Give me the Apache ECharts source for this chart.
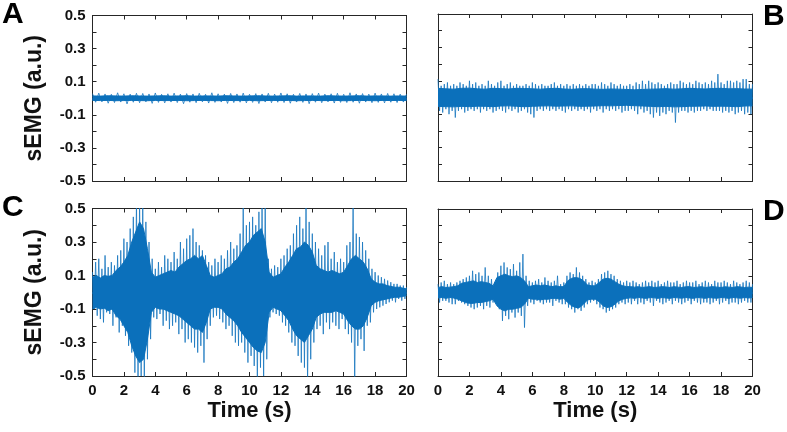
<!doctype html>
<html>
<head>
<meta charset="UTF-8">
<title>sEMG</title>
<script src="https://cdn.jsdelivr.net/npm/echarts@6/dist/echarts.min.js"></script>
<style>
  html, body { margin: 0; padding: 0; background: #fff; }
  #main { width: 787px; height: 432px; }
</style>
</head>
<body>
<div id="main"></div>
<script>
// dense band (upper / lower edge): A, B every 0.5 s; C, D every 0.25 s; 0..20 s
var coreHiA = [0.014,0.013,0.015,0.014,0.013,0.015,0.014,0.013,0.014,0.015,0.013,0.014,0.015,0.013,0.014,0.014,0.013,0.015,0.014,0.013,0.014,0.015,0.014,0.013,0.014,0.015,0.013,0.014,0.014,0.013,0.015,0.014,0.013,0.014,0.015,0.013,0.014,0.014,0.013,0.014,0.013];
var coreLoA = [-0.013,-0.014,-0.013,-0.015,-0.014,-0.013,-0.014,-0.015,-0.013,-0.014,-0.014,-0.013,-0.015,-0.014,-0.013,-0.014,-0.015,-0.013,-0.014,-0.014,-0.013,-0.015,-0.014,-0.013,-0.014,-0.013,-0.015,-0.014,-0.013,-0.014,-0.014,-0.013,-0.015,-0.014,-0.013,-0.014,-0.015,-0.013,-0.014,-0.013,-0.014];
var coreHiB = [0.055,0.052,0.05,0.055,0.056,0.052,0.05,0.055,0.053,0.051,0.055,0.054,0.052,0.05,0.053,0.055,0.051,0.049,0.052,0.053,0.05,0.049,0.051,0.05,0.048,0.046,0.048,0.05,0.051,0.053,0.05,0.052,0.055,0.053,0.051,0.054,0.055,0.052,0.053,0.051,0.05];
var coreLoB = [-0.053,-0.055,-0.056,-0.053,-0.055,-0.052,-0.053,-0.055,-0.051,-0.05,-0.053,-0.055,-0.053,-0.051,-0.05,-0.052,-0.051,-0.05,-0.053,-0.052,-0.051,-0.049,-0.05,-0.048,-0.047,-0.049,-0.051,-0.053,-0.055,-0.053,-0.056,-0.055,-0.053,-0.052,-0.051,-0.053,-0.052,-0.053,-0.055,-0.051,-0.05];
var coreHiC = [
    0.09,0.1,0.085,0.1,0.095,0.1,
    0.13,0.15,0.18,0.22,
    0.3,0.36,0.42,0.38,0.26,
    0.12,0.09,
    0.1,0.11,0.12,0.13,0.12,0.15,0.17,
    0.19,0.2,0.22,0.2,0.22,0.16,
    0.1,0.09,0.1,0.11,
    0.14,0.15,0.18,0.2,
    0.24,0.28,0.3,0.34,0.36,0.38,0.3,
    0.12,0.09,0.1,0.11,
    0.15,0.18,0.22,0.26,0.27,0.3,0.28,0.24,
    0.16,0.14,0.13,0.12,0.13,0.12,0.11,0.12,
    0.16,0.2,0.22,0.2,0.18,0.14,
    0.08,0.06,0.05,0.05,0.04,0.035,0.03,0.03,0.025,0.02];
var coreLoC = [
    -0.1,-0.09,-0.1,-0.095,-0.11,-0.1,
    -0.14,-0.16,-0.2,-0.24,
    -0.32,-0.38,-0.42,-0.4,-0.28,
    -0.12,-0.09,
    -0.1,-0.1,-0.11,-0.12,-0.13,-0.14,-0.16,
    -0.18,-0.2,-0.22,-0.22,-0.24,-0.18,
    -0.1,-0.09,-0.09,-0.1,
    -0.13,-0.15,-0.17,-0.2,
    -0.24,-0.27,-0.3,-0.33,-0.35,-0.36,-0.3,
    -0.12,-0.09,-0.1,-0.11,
    -0.14,-0.17,-0.22,-0.26,-0.28,-0.3,-0.26,-0.22,
    -0.15,-0.13,-0.12,-0.12,-0.12,-0.11,-0.12,-0.13,
    -0.17,-0.2,-0.22,-0.22,-0.2,-0.15,
    -0.08,-0.06,-0.05,-0.045,-0.04,-0.035,-0.03,-0.03,-0.025,-0.02];
var coreHiD = [
    0.03,0.035,0.03,0.032,0.035,0.04,
    0.055,0.06,0.065,0.07,0.06,0.065,0.06,0.055,0.04,
    0.09,0.1,0.11,0.1,0.095,0.1,0.09,0.07,
    0.035,0.04,0.045,0.04,0.045,0.04,0.035,0.04,0.035,0.035,
    0.07,0.085,0.09,0.085,0.07,0.045,0.04,0.04,0.06,
    0.08,0.085,0.08,0.065,0.05,0.04,0.035,
    0.035,0.032,0.035,0.03,0.033,0.035,0.03,0.032,0.035,0.033,0.03,0.035,0.032,0.03,0.034,0.035,
    0.03,0.032,0.035,0.03,0.033,0.035,0.032,0.03,0.034,0.032,0.03,0.035,0.033,0.03,0.032,0.03];
var coreLoD = [
    -0.032,-0.03,-0.035,-0.03,-0.033,-0.04,
    -0.05,-0.06,-0.065,-0.065,-0.06,-0.06,-0.055,-0.05,-0.04,
    -0.08,-0.1,-0.11,-0.1,-0.1,-0.095,-0.09,-0.07,
    -0.035,-0.04,-0.04,-0.045,-0.04,-0.04,-0.035,-0.035,-0.04,-0.035,
    -0.06,-0.08,-0.09,-0.09,-0.07,-0.045,-0.04,-0.04,-0.055,
    -0.08,-0.09,-0.085,-0.07,-0.05,-0.04,-0.035,
    -0.032,-0.035,-0.03,-0.033,-0.035,-0.03,-0.032,-0.035,-0.03,-0.033,-0.035,-0.03,-0.032,-0.034,-0.03,-0.033,
    -0.035,-0.03,-0.032,-0.035,-0.03,-0.033,-0.034,-0.03,-0.032,-0.035,-0.03,-0.032,-0.034,-0.03,-0.033,-0.03];

// spike tips: A every 0.2 s, B/C/D every 0.1 s, 0..20 s
var spikeA = [0.028,-0.024,0.031,-0.022,0.026,-0.03,0.024,-0.026,0.033,-0.023,0.027,-0.034,0.025,-0.024,0.03,-0.027,0.029,-0.022,0.026,-0.031,0.032,-0.025,0.024,-0.028,0.027,-0.023,0.031,-0.026,0.025,-0.033,0.028,-0.024,0.026,-0.027,0.03,-0.022,0.024,-0.029,0.033,-0.025,0.027,-0.023,0.025,-0.031,0.029,-0.026,0.026,-0.024,0.031,-0.028,0.024,-0.025,0.028,-0.032,0.026,-0.023,0.03,-0.027,0.025,-0.024,0.032,-0.026,0.027,-0.03,0.024,-0.023,0.029,-0.025,0.026,-0.033,0.028,-0.024,0.031,-0.027,0.025,-0.022,0.027,-0.029,0.03,-0.025,0.024,-0.026,0.033,-0.024,0.026,-0.03,0.028,-0.023,0.025,-0.027,0.031,-0.025,0.026,-0.028,0.029,-0.024,0.027,-0.026,0.025,-0.023,0.024];
var spikeB = [
    0.11,-0.08,0.07,-0.09,0.08,-0.07,0.09,-0.1,0.07,-0.08,
    0.08,-0.12,0.07,-0.08,0.09,-0.07,0.08,-0.09,0.07,-0.08,
    0.1,-0.07,0.08,-0.08,0.09,-0.07,0.07,-0.09,0.08,-0.07,
    0.07,-0.08,0.1,-0.07,0.08,-0.09,0.07,-0.08,0.09,-0.07,
    0.1,-0.08,0.07,-0.09,0.08,-0.07,0.09,-0.08,0.07,-0.07,
    0.08,-0.09,0.07,-0.08,0.07,-0.07,0.08,-0.09,0.07,-0.1,
    0.09,-0.12,0.08,-0.08,0.07,-0.07,0.08,-0.08,0.07,-0.07,
    0.07,-0.08,0.08,-0.07,0.09,-0.08,0.07,-0.07,0.08,-0.08,
    0.07,-0.09,0.08,-0.07,0.07,-0.08,0.08,-0.07,0.07,-0.08,
    0.08,-0.07,0.07,-0.08,0.08,-0.07,0.07,-0.09,0.08,-0.07,
    0.08,-0.08,0.07,-0.07,0.09,-0.09,0.08,-0.07,0.07,-0.08,
    0.09,-0.07,0.08,-0.08,0.07,-0.07,0.08,-0.09,0.07,-0.08,
    0.07,-0.08,0.08,-0.07,0.07,-0.08,0.09,-0.1,0.08,-0.07,
    0.1,-0.09,0.08,-0.08,0.1,-0.1,0.09,-0.12,0.08,-0.09,
    0.09,-0.11,0.08,-0.09,0.07,-0.1,0.08,-0.08,0.09,-0.09,
    0.08,-0.15,0.08,-0.09,0.1,-0.08,0.09,-0.08,0.08,-0.09,
    0.09,-0.08,0.08,-0.09,0.1,-0.08,0.09,-0.08,0.08,-0.07,
    0.09,-0.08,0.08,-0.07,0.1,-0.08,0.09,-0.08,0.14,-0.08,
    0.09,-0.09,0.08,-0.08,0.1,-0.09,0.1,-0.08,0.09,-0.1,
    0.1,-0.09,0.09,-0.08,0.11,-0.1,0.11,-0.09,0.08,-0.1,
    0.08];
var spikeC = [
    0.12,-0.1,0.18,-0.14,0.2,-0.16,0.14,-0.18,0.22,-0.12,
    0.15,-0.13,0.18,-0.2,0.16,-0.15,0.22,-0.24,0.25,-0.2,
    0.32,-0.26,0.3,-0.32,0.38,-0.36,0.45,-0.48,0.55,-0.55,
    0.55,-0.5,0.55,-0.55,0.42,-0.4,0.3,-0.28,0.2,-0.15,
    0.14,-0.16,0.18,-0.13,0.15,-0.2,0.22,-0.17,0.2,-0.22,
    0.18,-0.2,0.24,-0.18,0.2,-0.25,0.3,-0.22,0.26,-0.3,
    0.32,-0.28,0.34,-0.3,0.38,-0.33,0.3,-0.36,0.28,-0.32,
    0.25,-0.42,0.22,-0.28,0.18,-0.2,0.16,-0.15,0.2,-0.14,
    0.18,-0.16,0.22,-0.18,0.2,-0.22,0.25,-0.2,0.3,-0.26,
    0.26,-0.3,0.28,-0.32,0.35,-0.3,0.52,-0.36,0.4,-0.42,
    0.42,-0.38,0.45,-0.44,0.4,-0.55,0.48,-0.45,0.55,-0.5,
    0.55,-0.4,0.2,-0.15,0.14,-0.12,0.16,-0.13,0.15,-0.14,
    0.2,-0.18,0.22,-0.2,0.26,-0.24,0.28,-0.3,0.35,-0.32,
    0.4,-0.38,0.45,-0.42,0.38,-0.45,0.55,-0.55,0.42,-0.4,
    0.35,-0.3,0.3,-0.22,0.26,-0.2,0.22,-0.25,0.28,-0.18,
    0.3,-0.22,0.2,-0.18,0.24,-0.2,0.18,-0.22,0.2,-0.16,
    0.18,-0.22,0.28,-0.25,0.3,-0.3,0.55,-0.55,0.35,-0.32,
    0.33,-0.28,0.3,-0.35,0.25,-0.2,0.2,-0.18,0.14,-0.12,
    0.12,-0.1,0.1,-0.09,0.09,-0.08,0.08,-0.07,0.07,-0.06,
    0.06,-0.05,0.05,-0.06,0.05,-0.04,0.04,-0.05,0.04,-0.04,
    0.03];
var spikeD = [
    0.05,-0.06,0.06,-0.05,0.07,-0.05,0.05,-0.06,0.06,-0.07,
    0.05,-0.07,0.06,-0.05,0.07,-0.06,0.08,-0.07,0.09,-0.08,
    0.1,-0.09,0.13,-0.1,0.11,-0.09,0.12,-0.08,0.1,-0.1,
    0.15,-0.08,0.1,-0.09,0.08,-0.06,0.06,-0.05,0.12,-0.1,
    0.16,-0.17,0.18,-0.14,0.15,-0.16,0.14,-0.12,0.17,-0.15,
    0.13,-0.12,0.18,-0.14,0.23,-0.21,0.1,-0.08,0.07,-0.06,
    0.06,-0.07,0.07,-0.05,0.08,-0.06,0.06,-0.07,0.09,-0.06,
    0.07,-0.06,0.06,-0.08,0.07,-0.05,0.1,-0.06,0.05,-0.07,
    0.06,-0.07,0.1,-0.09,0.12,-0.1,0.11,-0.12,0.15,-0.1,
    0.12,-0.11,0.1,-0.09,0.08,-0.07,0.06,-0.06,0.07,-0.05,
    0.06,-0.07,0.08,-0.09,0.11,-0.1,0.12,-0.12,0.13,-0.11,
    0.11,-0.1,0.1,-0.09,0.08,-0.07,0.07,-0.06,0.06,-0.07,
    0.07,-0.06,0.06,-0.07,0.07,-0.05,0.06,-0.07,0.05,-0.06,
    0.06,-0.07,0.07,-0.05,0.06,-0.06,0.07,-0.08,0.06,-0.05,
    0.07,-0.06,0.05,-0.07,0.06,-0.06,0.07,-0.05,0.06,-0.07,
    0.06,-0.05,0.07,-0.06,0.05,-0.07,0.06,-0.06,0.07,-0.05,
    0.06,-0.07,0.06,-0.05,0.07,-0.06,0.05,-0.07,0.06,-0.06,
    0.07,-0.06,0.06,-0.07,0.05,-0.06,0.07,-0.05,0.06,-0.07,
    0.06,-0.06,0.07,-0.05,0.06,-0.07,0.05,-0.06,0.07,-0.06,
    0.06,-0.07,0.05,-0.06,0.06,-0.05,0.07,-0.06,0.06,-0.06,
    0.05];

var timeTicks = [0, 2, 4, 6, 8, 10, 12, 14, 16, 18, 20];
var ampLabels = [0.5, 0.3, 0.1, -0.1, -0.3, -0.5];

var FONT = 'Liberation Sans';
var INK = '#262626';
var BLUE = '#0b70bb';

// each panel: grid box, data, whether it carries labels
var panels = [
    {letter: 'A', box: {left: 92.5, top: 15.5, width: 314, height: 165.5}, hi: coreHiA, lo: coreLoA, sp: spikeA, yLab: true,  xLab: false},
    {letter: 'B', box: {left: 438,  top: 14,   width: 314.5, height: 167}, hi: coreHiB, lo: coreLoB, sp: spikeB, yLab: false, xLab: false},
    {letter: 'C', box: {left: 92.5, top: 208.5, width: 314, height: 167.5}, hi: coreHiC, lo: coreLoC, sp: spikeC, yLab: true,  xLab: true},
    {letter: 'D', box: {left: 438,  top: 209,  width: 314.5, height: 167}, hi: coreHiD, lo: coreLoD, sp: spikeD, yLab: false, xLab: true}
];
var letterPos = [{left: 2, top: 0}, {left: 763, top: 2}, {left: 2, top: 193}, {left: 763, top: 197}];

function toPairs(arr) {
    var n = arr.length, out = [];
    for (var i = 0; i < n; i++) out.push([i * 20 / (n - 1), arr[i]]);
    return out;
}

function ampFmt(v) {
    var k = Math.round(v * 10);
    if (Math.abs(k) % 2 !== 1) return '';
    for (var j = 0; j < ampLabels.length; j++) {
        if (Math.round(ampLabels[j] * 10) === k) return ampLabels[j].toFixed(1);
    }
    return '';
}

var grids = [], xAxes = [], yAxes = [], series = [], titles = [];
var tickStyle = {show: true, inside: true, length: 4, lineStyle: {color: INK, width: 1}};
var lineStyle = {show: true, onZero: false, lineStyle: {color: INK, width: 1}};
var labelFont = {fontFamily: FONT, fontWeight: 'bold', fontSize: 15, color: '#111'};
var nameFont = {fontFamily: FONT, fontWeight: 'bold', fontSize: 22, color: '#111'};

panels.forEach(function (p, g) {
    grids.push(Object.assign({containLabel: false}, p.box));
    // bottom / top
    xAxes.push({
        gridIndex: g, type: 'value', min: 0, max: 20, interval: 2, position: 'bottom',
        axisLine: lineStyle, axisTick: tickStyle, splitLine: {show: false},
        axisLabel: Object.assign({show: p.xLab, margin: 7, formatter: function (v) {
            return timeTicks.indexOf(v) >= 0 ? String(v) : '';
        }}, labelFont),
        name: p.xLab ? 'Time (s)' : '', nameLocation: 'middle', nameGap: 24, nameTextStyle: nameFont
    });
    xAxes.push({
        gridIndex: g, type: 'value', min: 0, max: 20, interval: 2, position: 'top',
        axisLine: lineStyle, axisTick: tickStyle, splitLine: {show: false}, axisLabel: {show: false}
    });
    // left / right
    yAxes.push({
        gridIndex: g, type: 'value', min: -0.5, max: 0.5, interval: 0.1, position: 'left',
        axisLine: lineStyle, axisTick: tickStyle, splitLine: {show: false},
        axisLabel: Object.assign({show: p.yLab, margin: 7, formatter: ampFmt}, labelFont),
        name: p.yLab ? 'sEMG (a.u.)' : '', nameLocation: 'middle', nameGap: 46,
        nameTextStyle: Object.assign({}, nameFont, {fontSize: 23})
    });
    yAxes.push({
        gridIndex: g, type: 'value', min: -0.5, max: 0.5, interval: 0.1, position: 'right',
        axisLine: lineStyle, axisTick: tickStyle, splitLine: {show: false}, axisLabel: {show: false}
    });

    var xi = 2 * g, yi = 2 * g;
    series.push({
        type: 'line', xAxisIndex: xi, yAxisIndex: yi, data: toPairs(p.sp),
        showSymbol: false, clip: true, z: 2, lineStyle: {color: '#1676bf', width: 0.8}
    });
    [p.hi, p.lo].forEach(function (edge, k) {
        var s = {
            type: 'line', xAxisIndex: xi, yAxisIndex: yi, data: toPairs(edge),
            showSymbol: false, clip: true, z: 3,
            lineStyle: {color: BLUE, width: 1}, areaStyle: {color: BLUE, opacity: 1}
        };
        if (k === 0) {
            // closes the seam between the two halves of the band
            s.markLine = {silent: true, symbol: 'none', label: {show: false},
                lineStyle: {color: BLUE, width: 2, type: 'solid'}, data: [{yAxis: 0}]};
        }
        series.push(s);
    });

    titles.push({
        text: p.letter, left: letterPos[g].left, top: letterPos[g].top, padding: 0,
        textStyle: {fontFamily: FONT, fontWeight: 'bold', fontSize: 30, color: '#000'}
    });
});

var myChart = echarts.init(document.getElementById('main'), null, {renderer: 'canvas'});
myChart.setOption({
    animation: false,
    title: titles,
    grid: grids,
    xAxis: xAxes,
    yAxis: yAxes,
    series: series
});
</script>
</body>
</html>
